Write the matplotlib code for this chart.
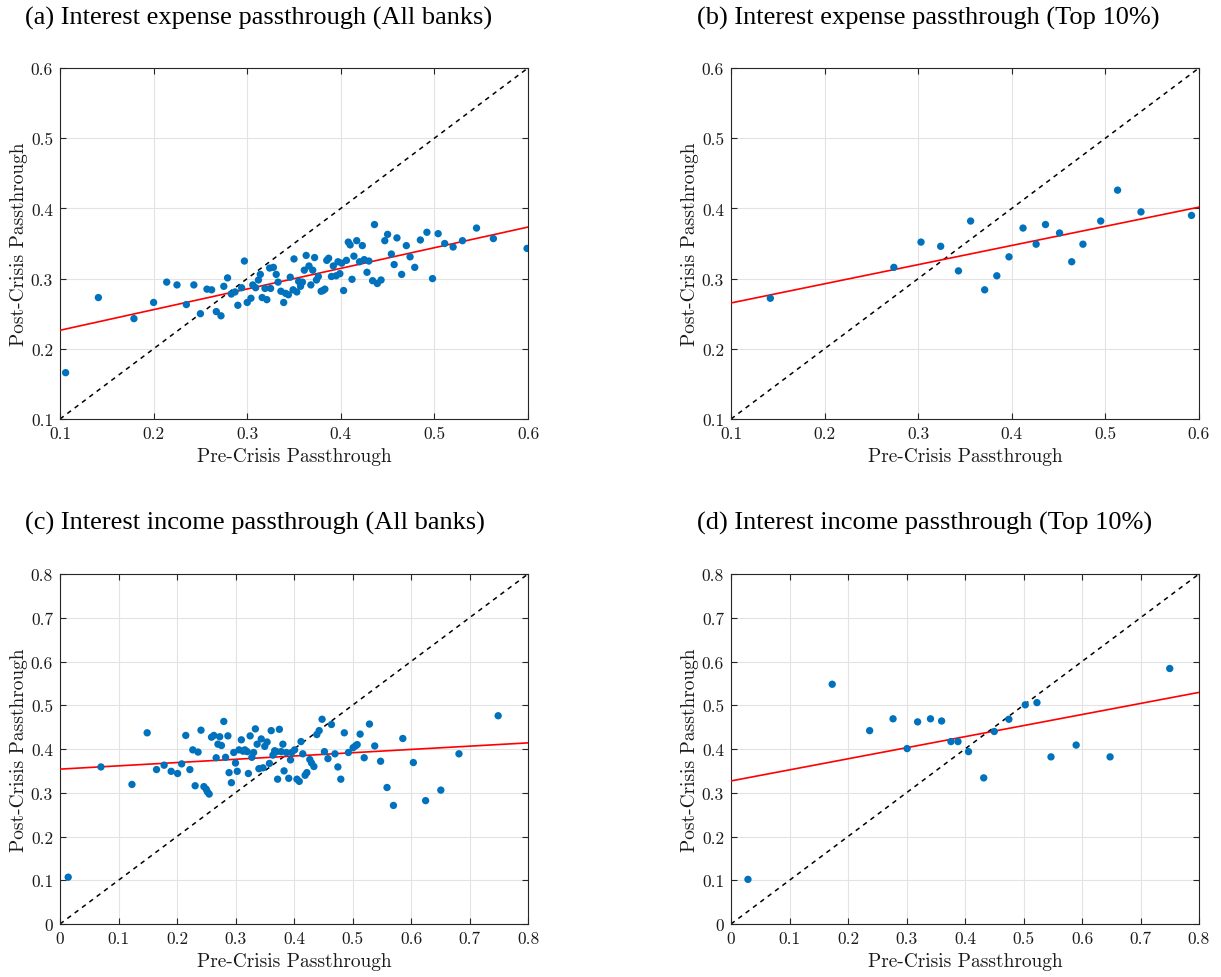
import numpy as np
import matplotlib
matplotlib.use("Agg")
import matplotlib.pyplot as plt

plt.rcParams['font.family'] = ['Liberation Serif', 'DejaVu Serif']

# ---------------- data ----------------
# (a) Interest expense passthrough, all banks
a_pre = [0.106, 0.141, 0.179, 0.200, 0.214, 0.225, 0.235, 0.243, 0.250, 0.257,
         0.262, 0.267, 0.272, 0.275, 0.279, 0.283, 0.287, 0.290, 0.294, 0.297,
         0.300, 0.304, 0.306, 0.309, 0.312, 0.314, 0.316, 0.319, 0.321, 0.324,
         0.325, 0.328, 0.331, 0.333, 0.336, 0.339, 0.341, 0.344, 0.346, 0.349,
         0.350, 0.353, 0.355, 0.357, 0.359, 0.361, 0.363, 0.366, 0.368, 0.370,
         0.372, 0.374, 0.376, 0.379, 0.381, 0.383, 0.385, 0.387, 0.390, 0.392,
         0.395, 0.397, 0.399, 0.401, 0.403, 0.406, 0.408, 0.410, 0.412, 0.414,
         0.417, 0.420, 0.423, 0.425, 0.428, 0.430, 0.434, 0.436, 0.439, 0.443,
         0.447, 0.450, 0.454, 0.457, 0.460, 0.465, 0.470, 0.474, 0.479, 0.485,
         0.492, 0.498, 0.504, 0.511, 0.520, 0.530, 0.545, 0.563, 0.599]
a_post = [0.166, 0.273, 0.243, 0.266, 0.295, 0.291, 0.263, 0.291, 0.250, 0.285,
          0.284, 0.253, 0.247, 0.289, 0.301, 0.278, 0.281, 0.262, 0.287, 0.325,
          0.266, 0.272, 0.291, 0.287, 0.298, 0.306, 0.273, 0.286, 0.270, 0.315,
          0.286, 0.316, 0.306, 0.295, 0.282, 0.266, 0.279, 0.277, 0.302, 0.284,
          0.328, 0.281, 0.296, 0.289, 0.295, 0.312, 0.333, 0.318, 0.291, 0.312,
          0.330, 0.298, 0.303, 0.282, 0.283, 0.285, 0.326, 0.329, 0.303, 0.318,
          0.304, 0.324, 0.307, 0.322, 0.283, 0.326, 0.352, 0.348, 0.299, 0.332,
          0.354, 0.324, 0.347, 0.327, 0.309, 0.325, 0.297, 0.377, 0.293, 0.298,
          0.354, 0.363, 0.335, 0.320, 0.358, 0.306, 0.347, 0.331, 0.316, 0.355,
          0.366, 0.300, 0.364, 0.350, 0.345, 0.354, 0.372, 0.357, 0.343]
a_fit = (0.197, 0.294)   # intercept, slope

# (b) Interest expense passthrough, top 10%
b_pre = [0.142, 0.274, 0.303, 0.324, 0.343, 0.356, 0.371, 0.384, 0.397, 0.412,
         0.426, 0.436, 0.451, 0.464, 0.476, 0.495, 0.513, 0.538, 0.592]
b_post = [0.272, 0.316, 0.352, 0.346, 0.311, 0.382, 0.284, 0.304, 0.331, 0.372,
          0.349, 0.377, 0.365, 0.324, 0.349, 0.382, 0.426, 0.395, 0.390]
b_fit = (0.238, 0.273)

# (c) Interest income passthrough, all banks
c_pre = [0.014, 0.070, 0.123, 0.149, 0.165, 0.178, 0.190, 0.201, 0.208, 0.215,
         0.222, 0.227, 0.231, 0.236, 0.241, 0.246, 0.250, 0.252, 0.255, 0.259,
         0.263, 0.267, 0.270, 0.273, 0.276, 0.280, 0.283, 0.287, 0.289, 0.293,
         0.297, 0.300, 0.303, 0.306, 0.310, 0.313, 0.316, 0.320, 0.322, 0.325,
         0.328, 0.331, 0.334, 0.337, 0.340, 0.344, 0.347, 0.350, 0.354, 0.358,
         0.361, 0.364, 0.367, 0.370, 0.372, 0.375, 0.378, 0.381, 0.383, 0.387,
         0.391, 0.394, 0.396, 0.401, 0.405, 0.409, 0.412, 0.415, 0.419, 0.422,
         0.427, 0.430, 0.434, 0.439, 0.443, 0.448, 0.452, 0.458, 0.464, 0.470,
         0.475, 0.480, 0.486, 0.493, 0.501, 0.505, 0.508, 0.513, 0.520, 0.529,
         0.538, 0.548, 0.559, 0.570, 0.586, 0.604, 0.625, 0.651, 0.682, 0.749]
c_post = [0.107, 0.359, 0.319, 0.437, 0.353, 0.363, 0.349, 0.344, 0.366, 0.431,
          0.353, 0.398, 0.316, 0.393, 0.443, 0.314, 0.308, 0.302, 0.297, 0.427,
          0.431, 0.380, 0.411, 0.428, 0.408, 0.463, 0.381, 0.430, 0.346, 0.323,
          0.392, 0.368, 0.349, 0.398, 0.421, 0.395, 0.398, 0.394, 0.344, 0.430,
          0.381, 0.392, 0.446, 0.411, 0.355, 0.423, 0.357, 0.406, 0.416, 0.367,
          0.442, 0.386, 0.396, 0.394, 0.331, 0.445, 0.394, 0.411, 0.350, 0.392,
          0.333, 0.375, 0.392, 0.398, 0.331, 0.326, 0.417, 0.389, 0.340, 0.346,
          0.376, 0.368, 0.360, 0.433, 0.442, 0.468, 0.394, 0.378, 0.456, 0.389,
          0.359, 0.331, 0.437, 0.392, 0.403, 0.407, 0.410, 0.434, 0.380, 0.457,
          0.407, 0.372, 0.312, 0.271, 0.424, 0.369, 0.282, 0.306, 0.389, 0.476]
c_fit = (0.354, 0.075)

# (d) Interest income passthrough, top 10%
d_pre = [0.029, 0.173, 0.237, 0.277, 0.301, 0.319, 0.341, 0.360, 0.376, 0.388,
         0.406, 0.432, 0.450, 0.475, 0.503, 0.523, 0.547, 0.590, 0.648, 0.750]
d_post = [0.102, 0.548, 0.442, 0.469, 0.401, 0.462, 0.469, 0.464, 0.417, 0.417,
          0.394, 0.334, 0.440, 0.468, 0.501, 0.506, 0.382, 0.409, 0.382, 0.584]
d_fit = (0.327, 0.253)

titles = ["(a) Interest expense passthrough (All banks)",
          "(b) Interest expense passthrough (Top 10%)",
          "(c) Interest income passthrough (All banks)",
          "(d) Interest income passthrough (Top 10%)"]
xlabel = "Pre-Crisis Passthrough"
ylabel = "Post-Crisis Passthrough"

# ---------------- figure ----------------
W, H = 1221, 978
fig = plt.figure(figsize=(W / 100, H / 100), dpi=100)

blue = '#0072BD'
axcol = '#262626'
cm = ['cmr10', 'DejaVu Serif']

def px_rect(l, t, r, b):
    return [l / W, 1 - b / H, (r - l) / W, (b - t) / H]

panels = [
    (a_pre, a_post, a_fit, (0.1, 0.6), np.arange(0.1, 0.61, 0.1), px_rect(60, 69, 528, 420), (25, 18)),
    (b_pre, b_post, b_fit, (0.1, 0.6), np.arange(0.1, 0.61, 0.1), px_rect(731, 69, 1199, 420), (697, 18)),
    (c_pre, c_post, c_fit, (0.0, 0.8), np.arange(0.0, 0.81, 0.1), px_rect(60, 575, 528, 925), (25, 523)),
    (d_pre, d_post, d_fit, (0.0, 0.8), np.arange(0.0, 0.81, 0.1), px_rect(731, 575, 1199, 925), (697, 523)),
]

for i, (xs, ys, fit, lim, ticks, rect, tpos) in enumerate(panels):
    ax = fig.add_axes(rect)
    ax.set_xlim(*lim)
    ax.set_ylim(*lim)
    ax.set_xticks(ticks)
    ax.set_yticks(ticks)
    labs = ['0' if abs(t) < 1e-9 else f'{t:.1f}' for t in ticks]
    ax.set_xticklabels(labs, family=cm, fontsize=12.5)
    ax.set_yticklabels(labs, family=cm, fontsize=12.5)
    ax.grid(True, color='#e3e3e3', linewidth=0.8)
    ax.set_axisbelow(True)
    ax.tick_params(direction='in', top=True, right=True, length=4, width=0.8,
                   colors=axcol, labelcolor='#1a1a1a')
    ax.tick_params(axis='x', pad=5)
    ax.tick_params(axis='y', pad=5)
    for s in ax.spines.values():
        s.set_color(axcol)
        s.set_linewidth(0.8)
    ax.plot(lim, lim, linestyle=(0, (3, 3)), color='black', linewidth=1.1, zorder=2)
    xx = np.array(lim)
    ax.plot(xx, fit[0] + fit[1] * xx, color='red', linewidth=1.2, zorder=3)
    ax.scatter(xs, ys, s=28, color=blue, edgecolors='none', zorder=4)
    ax.set_xlabel(xlabel, family=cm, fontsize=14, labelpad=4, color='#1a1a1a')
    ax.set_ylabel(ylabel, family=cm, fontsize=14, labelpad=2, color='#1a1a1a')
    fig.text(tpos[0] / W, 1 - tpos[1] / H, titles[i], fontsize=19, ha='left', va='center')

fig.savefig('out.png', dpi=100)
